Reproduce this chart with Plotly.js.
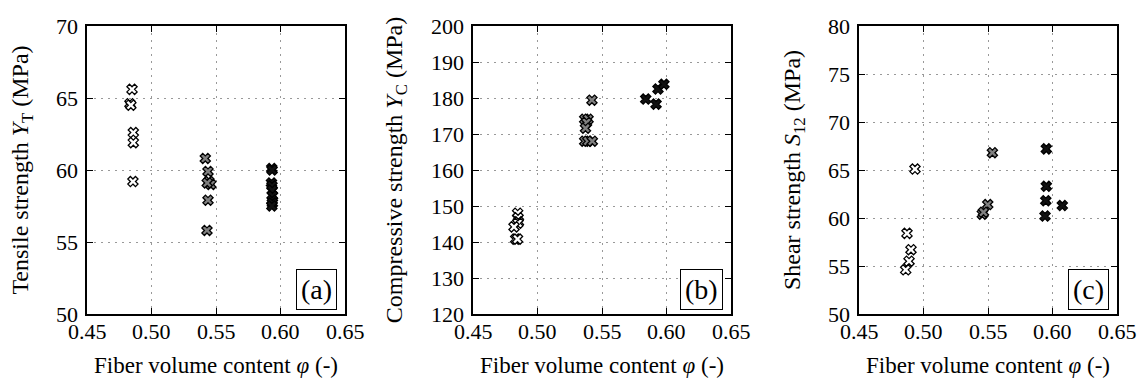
<!DOCTYPE html>
<html><head><meta charset="utf-8">
<script src="https://cdn.plot.ly/plotly-3.0.1.min.js"></script>
<style>html,body{margin:0;padding:0;background:#fff}#g{width:1142px;height:381px}</style>
</head><body><div id="g"></div>
<script>
// Panel (a) tensile strength
const aLowX = [0.4849, 0.4833, 0.4840, 0.4859, 0.4859, 0.4856];
const aLowY = [65.6, 64.6, 64.5, 62.6, 61.9, 59.2];
const aMidX = [0.5417, 0.5438, 0.5445, 0.5460, 0.5432, 0.5438, 0.5430];
const aMidY = [60.8, 59.9, 59.2, 59.0, 59.1, 57.9, 55.8];
const aHighX = [0.5932, 0.5935, 0.5930, 0.5934, 0.5936, 0.5938, 0.5935, 0.5937, 0.5933];
const aHighY = [60.1, 60.0, 59.1, 58.9, 58.6, 58.2, 57.9, 57.7, 57.5];
// Panel (b) compressive strength
const bLowX = [0.4846, 0.4849, 0.4852, 0.4848, 0.4818, 0.4831, 0.4845];
const bLowY = [148.0, 146.7, 145.6, 145.2, 144.2, 140.8, 140.8];
const bMidX = [0.5366, 0.5392, 0.5380, 0.5372, 0.5366, 0.5390, 0.5425, 0.5422];
const bMidY = [174.1, 174.1, 173.2, 171.6, 168.0, 168.0, 168.0, 179.4];
const bHighX = [0.5839, 0.5919, 0.5934, 0.5980];
const bHighY = [179.7, 178.3, 182.5, 183.8];
// Panel (c) shear strength
const cLowX = [0.4934, 0.4872, 0.4903, 0.4888, 0.4862];
const cLowY = [65.1, 58.4, 56.7, 55.5, 54.6];
const cMidX = [0.5534, 0.5498, 0.5456, 0.5465];
const cMidY = [66.8, 61.4, 60.4, 60.6];
const cHighX = [0.5952, 0.5952, 0.5948, 0.5942, 0.6076];
const cHighY = [67.2, 63.3, 61.8, 60.2, 61.3];

// Tick values and labels
const xTickVals = [0.45, 0.50, 0.55, 0.60, 0.65];
const xTickText = ['0.45', '0.50', '0.55', '0.60', '0.65'];
const aYTicks = [50, 55, 60, 65, 70];
const bYTicks = [120, 130, 140, 150, 160, 170, 180, 190, 200];
const cYTicks = [50, 55, 60, 65, 70, 75, 80];
const panelLabels = ['(a)', '(b)', '(c)'];
const yTitles = ['Tensile strength <i>Y</i><sub>T</sub> (MPa)',
                 'Compressive strength <i>Y</i><sub>C</sub> (MPa)',
                 'Shear strength <i>S</i><sub>12</sub> (MPa)'];
const xTitle = 'Fiber volume content <i>φ</i> (-)';

const fills = ['#ffffff', '#808080', '#111111'];
function mk(x, y, i, ax) {
  return {x: x, y: y, type: 'scatter', mode: 'markers', xaxis: 'x' + ax, yaxis: 'y' + ax,
    marker: {symbol: 'x', size: 9, color: fills[i], line: {color: '#000', width: 1.3}},
    showlegend: false, hoverinfo: 'skip'};
}
const data = [
  mk(aLowX, aLowY, 0, ''), mk(aMidX, aMidY, 1, ''), mk(aHighX, aHighY, 2, ''),
  mk(bLowX, bLowY, 0, '2'), mk(bMidX, bMidY, 1, '2'), mk(bHighX, bHighY, 2, '2'),
  mk(cLowX, cLowY, 0, '3'), mk(cMidX, cMidY, 1, '3'), mk(cHighX, cHighY, 2, '3')
];

const FAM = 'Liberation Serif';
function f(s) { return {family: FAM, size: s, color: '#000'}; }
const W = 1142, H = 381;
const xDom = [[87, 345], [473, 731], [859, 1117]].map(d => [d[0] / W, d[1] / W]);
const yDom = [(H - 314) / H, (H - 26) / H];
const yRanges = [[50, 70], [120, 200], [50, 80]];
const yTickSets = [aYTicks, bYTicks, cYTicks];
const yStandoff = [50, 62, 50];

function xa(i) {
  return {domain: xDom[i], range: [0.45, 0.65], tickmode: 'array', tickvals: xTickVals, ticktext: xTickText,
    showticklabels: false,
    showline: true, linewidth: 2, linecolor: '#000', mirror: 'ticks', ticks: 'inside', ticklen: 6,
    tickcolor: '#000', showgrid: true, gridcolor: '#999', griddash: '2px,5px', gridwidth: 1,
    zeroline: false, anchor: i === 0 ? 'y' : 'y' + (i + 1),
    title: {text: xTitle, font: f(23), standoff: 42}};
}
function ya(i) {
  return {domain: yDom, range: yRanges[i], tickmode: 'array', tickvals: yTickSets[i],
    showticklabels: false,
    showline: true, linewidth: 2, linecolor: '#000', mirror: 'ticks', ticks: 'inside', ticklen: 6,
    tickcolor: '#000', showgrid: true, gridcolor: '#999', griddash: '2px,5px', gridwidth: 1,
    zeroline: false, anchor: i === 0 ? 'x' : 'x' + (i + 1),
    title: {text: yTitles[i], font: f(24), standoff: yStandoff[i]}};
}
const annotations = [];
for (let i = 0; i < 3; i++) {
  const xr = 'x' + (i === 0 ? '' : i + 1);
  const yr = 'y' + (i === 0 ? '' : i + 1);
  xTickVals.forEach((v, k) => annotations.push({
    text: xTickText[k], xref: xr, yref: yr + ' domain', x: v, y: 0,
    xanchor: 'center', yanchor: 'top', yshift: -3, showarrow: false, font: f(22)}));
  yTickSets[i].forEach(v => annotations.push({
    text: String(v), xref: xr + ' domain', yref: yr, x: 0, y: v,
    xanchor: 'right', yanchor: 'middle', xshift: -7, showarrow: false, font: f(22)}));
  annotations.push({
    text: panelLabels[i], xref: xr + ' domain', yref: yr + ' domain',
    x: 0.969, y: 0.014, xanchor: 'right', yanchor: 'bottom', showarrow: false,
    font: f(28), bordercolor: '#000', borderwidth: 1, borderpad: 4, bgcolor: '#fff'});
}
const layout = {
  width: W, height: H, margin: {l: 0, r: 0, t: 0, b: 0},
  paper_bgcolor: '#fff', plot_bgcolor: '#fff', font: f(23),
  xaxis: xa(0), xaxis2: xa(1), xaxis3: xa(2),
  yaxis: ya(0), yaxis2: ya(1), yaxis3: ya(2),
  annotations: annotations, showlegend: false
};
Plotly.newPlot('g', data, layout, {displayModeBar: false, staticPlot: true});
</script></body></html>
